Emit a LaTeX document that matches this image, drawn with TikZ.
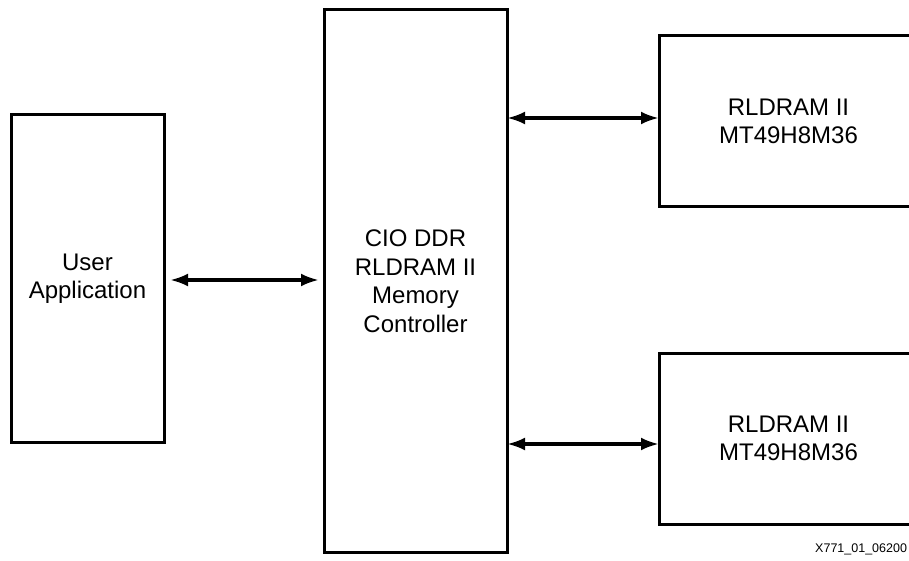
\documentclass[tikz,border=0pt]{standalone}
\usepackage{fontspec}
\setmainfont{Liberation Sans}
\usetikzlibrary{arrows.meta}
\begin{document}
\begin{tikzpicture}[x=1pt,y=-1pt,
  box/.style={draw,line width=3pt,inner sep=0pt,outer sep=0pt,align=center,
    font=\fontsize{24}{28.5}\selectfont},
  biarrow/.style={line width=3.4pt,
    {Latex[length=18pt,width=13pt]}-{Latex[length=18pt,width=13pt]}},
  idlabel/.style={inner sep=0pt,anchor=base west,font=\fontsize{12.5}{15}\selectfont}]
\useasboundingbox (0,0) rectangle (909,561);
\clip (0,0) rectangle (909,561);
\node[box,minimum width=153pt,minimum height=327pt] (ua) at (87.5,278.5) {User\\Application};
\node[box,minimum width=183pt,minimum height=542pt] (mc) at (415.5,281) {CIO DDR\\RLDRAM II\\Memory\\Controller};
\node[box,minimum width=259pt,minimum height=171pt] (r1) at (788.5,121.5) {RLDRAM II\\MT49H8M36};
\node[box,minimum width=259pt,minimum height=171pt] (r2) at (788.5,438.5) {RLDRAM II\\MT49H8M36};
\node[idlabel] (lbl) at (815,552) {X771\_01\_06200};
\draw[biarrow,shorten <=6pt,shorten >=5pt] ([yshift=-1.5pt]ua.east) -- ([yshift=-1.5pt]mc.west |- ua.east);
\draw[biarrow] ([yshift=3.5pt]mc.east |- r1.west) -- ([yshift=3.5pt]r1.west);
\draw[biarrow] ([yshift=-5.5pt]mc.east |- r2.west) -- ([yshift=-5.5pt]r2.west);
\end{tikzpicture}
\end{document}
